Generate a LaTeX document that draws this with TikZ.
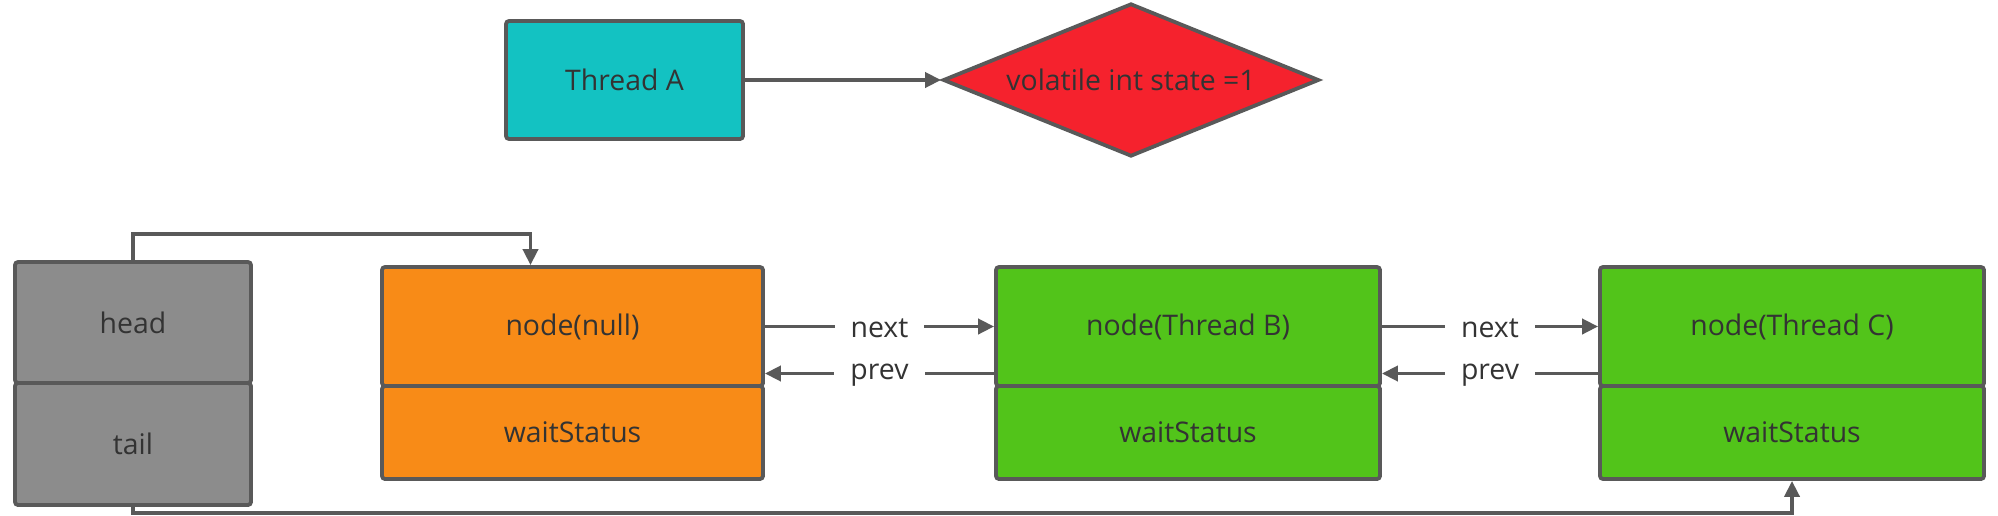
\documentclass[tikz,border=0pt]{standalone}
\usepackage{fontspec}
\setmainfont{Open Sans}
\usetikzlibrary{shapes.geometric,arrows.meta}
\definecolor{lineGray}{HTML}{595959}
\definecolor{txtGray}{HTML}{333333}
\definecolor{tealA}{HTML}{13C2C2}
\definecolor{redState}{HTML}{F5222D}
\definecolor{orangeNode}{HTML}{F88B17}
\definecolor{greenNode}{HTML}{52C41A}
\definecolor{grayPtr}{HTML}{8C8C8C}

\begin{document}
\begin{tikzpicture}[x=0.5pt,y=-0.5pt,
    box/.style={rectangle, draw=lineGray, line width=1.9pt, rounded corners=1.5pt,
        text=txtGray, font=\fontsize{14.2}{16}\selectfont, inner sep=0pt},
    arr/.style={draw=lineGray, line width=1.9pt, -{Triangle[length=8pt,width=7.5pt]}},
    lbl/.style={fill=white, text=txtGray, font=\fontsize{14.2}{16}\selectfont,
        inner xsep=8pt, inner ysep=1pt, yshift=-1pt}]
    \useasboundingbox (0,0) rectangle (1998,515);
    % Nodes
    \node[box, fill=tealA, minimum width=118.5pt, minimum height=59pt] (threadA) at (624.5,80) {Thread A};
    \node[diamond, draw=lineGray, line width=1.9pt, fill=redState, text=txtGray,
        font=\fontsize{14.2}{16}\selectfont, aspect=2.46, inner sep=0pt,
        minimum width=188pt, minimum height=76.5pt] (state) at (1131,80) {volatile int state =1};
    \node[box, fill=grayPtr, minimum width=118pt, minimum height=60.5pt] (head) at (133,322.5) {head};
    \node[box, fill=grayPtr, minimum width=118pt, minimum height=61pt] (tail) at (133,444) {tail};
    \node[box, fill=orangeNode, minimum width=190.5pt, minimum height=59.5pt] (nullTop) at (572.5,326.5) {node(null)};
    \node[box, fill=orangeNode, minimum width=190.5pt, minimum height=46.5pt] (nullWait) at (572.5,432.5) {waitStatus};
    \node[box, fill=greenNode, minimum width=192pt, minimum height=59.5pt] (bTop) at (1188,326.5) {node(Thread B)};
    \node[box, fill=greenNode, minimum width=192pt, minimum height=46.5pt] (bWait) at (1188,432.5) {waitStatus};
    \node[box, fill=greenNode, minimum width=192pt, minimum height=59.5pt] (cTop) at (1792,326.5) {node(Thread C)};
    \node[box, fill=greenNode, minimum width=192pt, minimum height=46.5pt] (cWait) at (1792,432.5) {waitStatus};
    % Edges
    \draw[arr] (threadA) -- (state);
    \draw[arr] (head.north) -- ++(0,-26) -| ([xshift=-21pt]nullTop.north);
    \draw[arr] (tail.south) -- ++(0,6) -| (cWait.south);
    \draw[arr] (nullTop.east) -- node[lbl] {next} (bTop.west);
    \draw[arr] ([yshift=-23.5pt]bTop.west) -- node[lbl] {prev} ([yshift=-23.5pt]nullTop.east);
    \draw[arr] (bTop.east) -- node[lbl] {next} (cTop.west);
    \draw[arr] ([yshift=-23.5pt]cTop.west) -- node[lbl] {prev} ([yshift=-23.5pt]bTop.east);
\end{tikzpicture}
\end{document}
